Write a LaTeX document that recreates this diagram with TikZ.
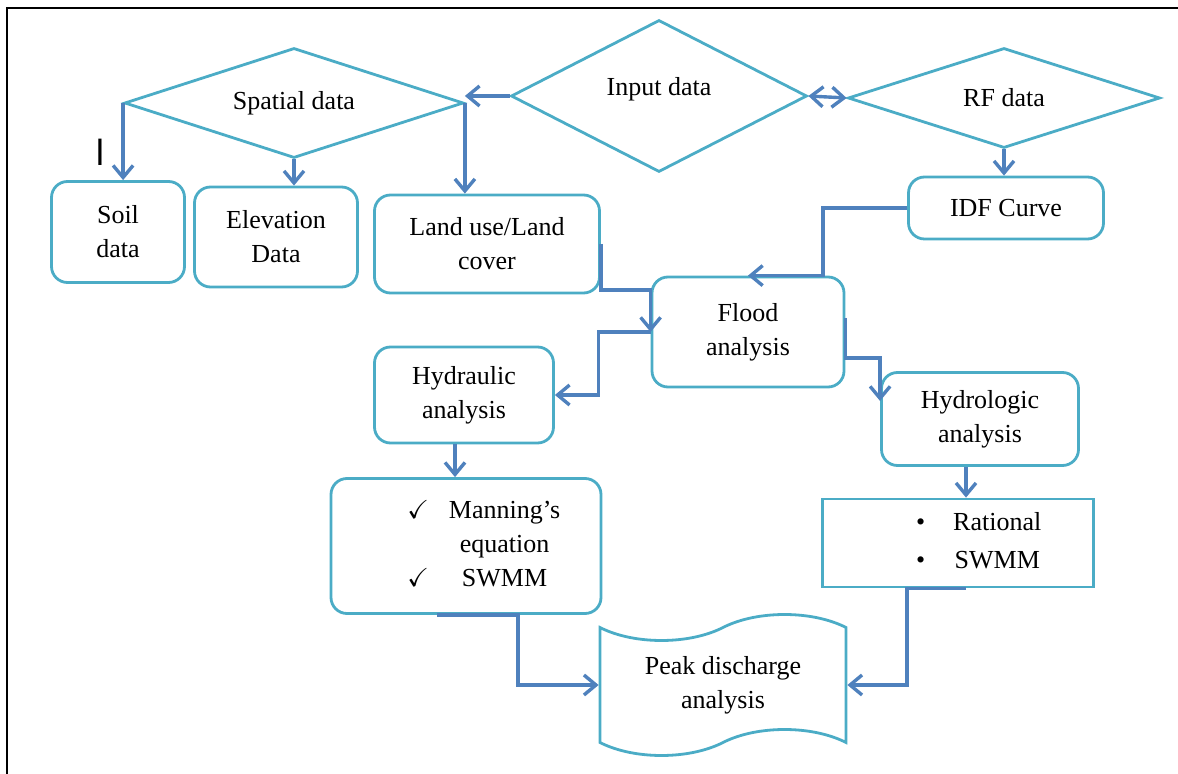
\documentclass[tikz,border=0pt]{standalone}
\usepackage{amssymb}
\usepackage{fontspec}
\setmainfont{Liberation Serif}
\usepackage{tikz}
\usetikzlibrary{positioning,arrows.meta,shapes.geometric,shapes.symbols,calc}

\definecolor{boxline}{RGB}{75,172,198}
\definecolor{flowline}{RGB}{79,129,189}

\begin{document}
\begin{tikzpicture}[
        x=0.5pt, y=-0.5pt,
        font=\fontsize{13}{17}\selectfont,
        >={Straight Barb[length=6pt,width=10pt]},
        decision/.style={
            diamond,
            draw=boxline,
            line width=1.4pt,
            aspect=4,
            inner sep=0pt,
            align=center
        },
        box/.style={
            draw=boxline,
            line width=1.4pt,
            rounded corners=8pt,
            align=center,
            inner sep=2pt
        },
        arrow/.style={
            ->,
            draw=flowline,
            line width=1.7pt
        }
    ]
    \useasboundingbox (0,0) rectangle (1178,774);

    % Rahmen
    \draw[line width=1.2pt] (7,774) -- (7,8) -- (1178,8);
    \node[font=\fontsize{19}{19}\selectfont\sffamily] (cursor) at (100,152) {I};

    % Obere Reihe
    \node[decision, minimum width=169.5pt, minimum height=55pt] (spatial) at (294,103) {Spatial data};
    \node[decision, minimum width=148pt, minimum height=76pt] (input) at (659,96) {\raisebox{9.5pt}{Input data}};
    \node[decision, minimum width=156pt, minimum height=50pt] (rf) at (1004,98) {RF data};

    % Datenboxen
    \node[box, minimum width=66.5pt, minimum height=50.5pt] (soil) at (118,232) {Soil\\data};
    \node[box, minimum width=81.5pt, minimum height=50pt] (elevation) at (276,237) {Elevation\\Data};
    \node[box, minimum width=112.5pt, minimum height=49pt] (landuse) at (487,244) {Land use/Land\\cover};
    \node[box, minimum width=97.5pt, minimum height=31pt] (idf) at (1006,208) {IDF Curve};

    % Analyse
    \node[box, minimum width=96pt, minimum height=55pt] (flood) at (748,332) {Flood\\analysis};
    \node[box, minimum width=89.5pt, minimum height=48pt] (hydraulic) at (464,395) {Hydraulic\\analysis};
    \node[box, minimum width=98.5pt, minimum height=46.5pt] (hydrologic) at (980,419) {Hydrologic\\analysis};

    \node[box, minimum width=135pt, minimum height=67.5pt] (manning) at (466,546) {
        \begin{tabular}{@{\hspace{21pt}}c@{\hspace{10pt}}c@{}}
            $\checkmark$ & Manning's\\
                         & equation\\
            $\checkmark$ & SWMM
        \end{tabular}
    };
    \node[box, rounded corners=0pt, minimum width=135.5pt, minimum height=44pt] (rational) at (958,543) {
        \begin{tabular}{@{\hspace{24pt}}c@{\hspace{14pt}}c@{}}
            \textbullet & Rational\\[2pt]
            \textbullet & SWMM
        \end{tabular}
    };

    \node[
        tape,
        draw=boxline,
        line width=1.4pt,
        tape bend height=13pt,
        minimum width=123pt,
        minimum height=70.5pt,
        align=center
    ] (peak) at (723,685) {Peak discharge\\analysis};

    % Pfeile
    \draw[arrow] (input.west) -- (input.west -| spatial.east);
    \draw[arrow] (spatial.east) -- (spatial.east |- landuse.north);
    \draw[arrow] (spatial.west) -- (spatial.west |- soil.north);
    \draw[arrow] (spatial.south) -- (spatial.south |- elevation.north);
    \draw[arrow, <->] (input.east) -- (rf.west);
    \draw[arrow] (rf.south) -- (rf.south |- idf.north);

    \draw[arrow] (landuse.east) -- ++(0,46) -| (flood.west);
    \draw[arrow] (idf.west) -- ++(-84,0) |- (flood.north);
    \draw[arrow] (flood.west) -- ++(-52,0) |- (hydraulic.east);
    \draw[arrow] ($(flood.east)+(0,-14)$) -- ++(0,40) -| ($(hydrologic.west)+(0,-18)$);

    \draw[arrow] ($(hydraulic.south)+(-9,0)$) -- ($(hydraulic.south |- manning.north)+(-9,0)$);
    \draw[arrow] ($(hydrologic.south)+(-14,0)$) -- ($(hydrologic.south |- rational.north)+(-14,0)$);

    \draw[arrow] ($(manning.south)+(-29,0)$) -- ++(81,0) |- (peak.west);
    \draw[arrow] ($(rational.south)+(8,0)$) -- ++(-59,0) |- (peak.east);

\end{tikzpicture}
\end{document}
